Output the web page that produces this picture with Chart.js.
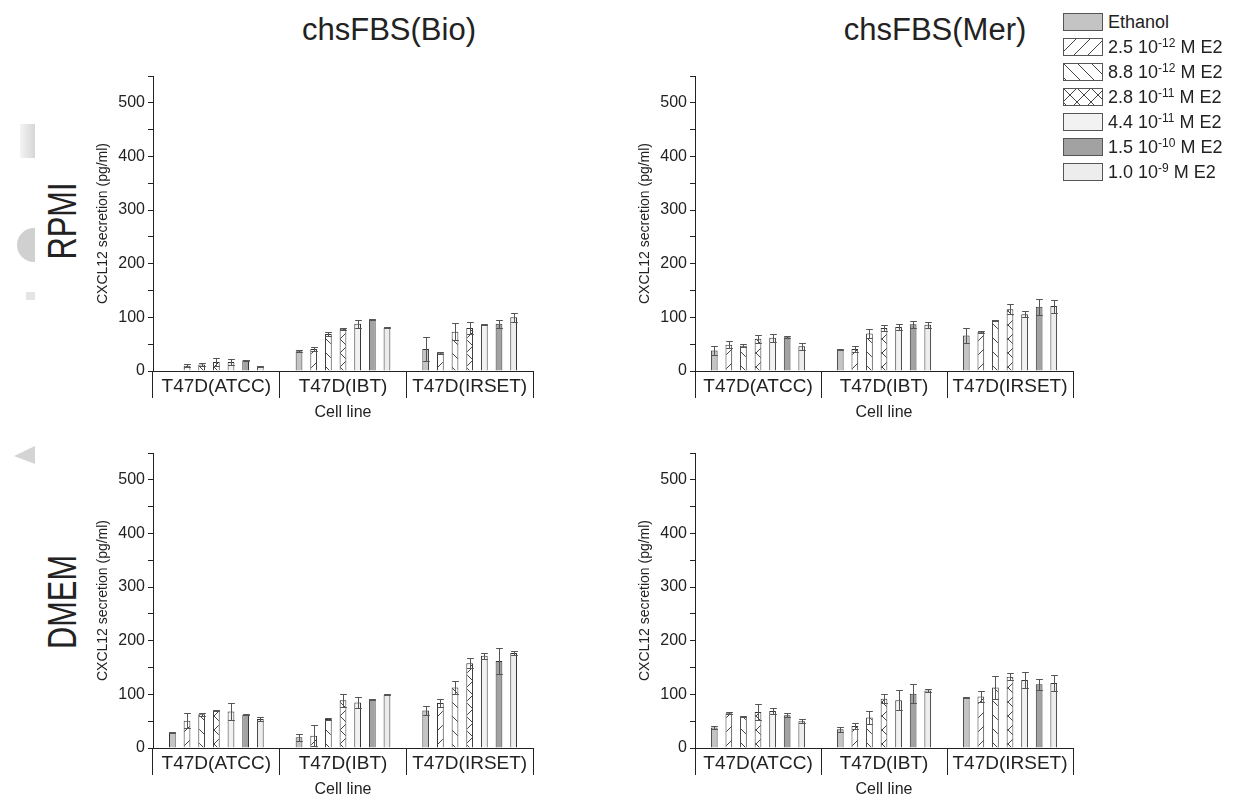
<!DOCTYPE html>
<html>
<head>
<meta charset="utf-8">
<script src="https://cdn.jsdelivr.net/npm/chart.js@4.4.1/dist/chart.umd.min.js"></script>
<style>
  body { margin: 0; background: #fff; font-family: "Liberation Sans", Arial, sans-serif; color: #222; }
  #fig { position: relative; width: 1233px; height: 805px; overflow: hidden; background: #fff; }
  canvas.panel { position: absolute; }
  .ptitle { position: absolute; top: 12px; font-size: 31px; transform: translateX(-50%); white-space: nowrap; }
  .rowlab { position: absolute; font-size: 40px; white-space: nowrap; transform: translate(-50%, -50%) rotate(-90deg) scaleX(0.77); }
  #legend { position: absolute; left: 1063px; top: 13px; }
  .lrow { position: absolute; left: 0; height: 18px; display: flex; align-items: center; white-space: nowrap; font-size: 18px; }
  .lrow canvas { width: 40px; height: 18px; margin-right: 5px; }
  .lrow sup { font-size: 12px; vertical-align: 0; position: relative; top: -6px; }
  .art { position: absolute; background: #d9d9d9; }
</style>
</head>
<body>
<div id="fig">
  <div class="art" style="left:20px;top:124px;width:15px;height:34px;background:linear-gradient(to right,#f4f4f4,#d6d6d6);"></div>
  <div class="art" style="left:17px;top:228px;width:18px;height:34px;border-radius:18px 0 0 18px;background:#d0d0d0;"></div>
  <div class="art" style="left:26px;top:292px;width:9px;height:8px;background:#e4e4e4;"></div>
  <div class="art" style="left:14px;top:446px;width:21px;height:18px;background:#d4d4d4;clip-path:polygon(100% 0,100% 100%,0 55%);"></div>

  <div class="ptitle" style="left:389px;">chsFBS(Bio)</div>
  <div class="ptitle" style="left:935px;">chsFBS(Mer)</div>
  <div class="rowlab" style="left:62px;top:221px;">RPMI</div>
  <div class="rowlab" style="left:62px;top:602px;">DMEM</div>

  <canvas class="panel" id="p1" width="444" height="356" style="left:95px;top:66px;"></canvas>
  <canvas class="panel" id="p2" width="442" height="356" style="left:637px;top:66px;"></canvas>
  <canvas class="panel" id="p3" width="444" height="356" style="left:95px;top:443px;"></canvas>
  <canvas class="panel" id="p4" width="442" height="356" style="left:637px;top:443px;"></canvas>

  <div id="legend"></div>
</div>
<script>
// ── Categorías y concentraciones ─────────────────────────────────────────────
const cellLines = ['T47D(ATCC)', 'T47D(IBT)', 'T47D(IRSET)'];
const concBase  = ['Ethanol', '2.5 10', '8.8 10', '2.8 10', '4.4 10', '1.5 10', '1.0 10'];
const concExp   = ['', '-12', '-12', '-11', '-11', '-10', '-9'];
const yTicks    = [0, 100, 200, 300, 400, 500];

// ── Valores: [línea celular][concentración] ──────────────────────────────────
const bioRpmi    = [[null, 10, 12, 17, 17, 20, 9], [37, 41, 69, 79, 88, 96, 81], [41, 34, 73, 80, 86, 88, 100]];
const bioRpmiErr = [[0, 3, 3, 8, 5, 1, 1],         [2, 3, 3, 2, 7, 1, 1],        [22, 2, 16, 11, 1, 8, 9]];

const merRpmi    = [[38, 49, 47, 60, 62, 63, 46], [40, 41, 70, 80, 82, 87, 86], [66, 73, 95, 115, 106, 120, 121]];
const merRpmiErr = [[8, 7, 3, 7, 7, 2, 7],        [1, 6, 9, 5, 6, 7, 6],        [14, 2, 1, 9, 5, 15, 12]];

const bioDmem    = [[29, 51, 63, 70, 68, 62, 54], [20, 23, 54, 89, 85, 91, 99], [70, 84, 113, 158, 172, 162, 177]];
const bioDmemErr = [[1, 14, 3, 1, 15, 1, 4],      [7, 19, 2, 12, 10, 1, 1],     [9, 7, 12, 9, 6, 24, 3]];

const merDmem    = [[38, 65, 58, 67, 69, 61, 50], [35, 41, 57, 92, 89, 101, 107], [94, 96, 113, 133, 127, 119, 121]];
const merDmemErr = [[3, 2, 1, 15, 6, 4, 4],       [5, 6, 12, 9, 19, 18, 3],       [1, 11, 22, 7, 15, 10, 15]];

// ── Estilos de relleno por concentración ─────────────────────────────────────
const FILLS = ['#c4c4c4', '/', '\\', 'x', '#f2f2f2', '#a2a2a2', '#ededed'];
const INK = '#222';

function makeFill(kind) {
    if (kind[0] === '#') return kind;
    const s = 14;
    const c = document.createElement('canvas');
    c.width = s; c.height = s;
    const g = c.getContext('2d');
    g.fillStyle = '#fff';
    g.fillRect(0, 0, s, s);
    g.strokeStyle = '#444';
    g.lineWidth = 1;
    g.beginPath();
    if (kind === '/' || kind === 'x') {
        g.moveTo(-1, s + 1); g.lineTo(s + 1, -1);
    }
    if (kind === '\\' || kind === 'x') {
        g.moveTo(-1, -1); g.lineTo(s + 1, s + 1);
    }
    g.stroke();
    return g.createPattern(c, 'repeat');
}

// ── Barras de error (arriba y abajo, con remates) ────────────────────────────
const errorBars = {
    id: 'errorBars',
    afterDatasetsDraw(chart) {
        const ctx = chart.ctx;
        const ys = chart.scales.y;
        ctx.save();
        ctx.strokeStyle = '#555';
        ctx.lineWidth = 1;
        chart.data.datasets.forEach((ds, i) => {
            chart.getDatasetMeta(i).data.forEach((bar, j) => {
                const v = ds.data[j], e = ds.errors[j];
                if (v == null || !e) return;
                const x = Math.round(bar.x) + 0.5;
                const hw = bar.width / 2;
                const yt = Math.round(ys.getPixelForValue(v + e)) + 0.5;
                const yb = Math.round(ys.getPixelForValue(v - e)) + 0.5;
                ctx.beginPath();
                ctx.moveTo(x, yt); ctx.lineTo(x, yb);
                ctx.moveTo(x - hw, yt); ctx.lineTo(x + hw, yt);
                ctx.moveTo(x - hw, yb); ctx.lineTo(x + hw, yb);
                ctx.stroke();
            });
        });
        ctx.restore();
    }
};

function buildPanel(id, means, errs) {
    const datasets = concBase.map((name, k) => ({
        label: name + (concExp[k] ? ' ' + concExp[k] : ''),
        data: cellLines.map((_, c) => means[c][k]),
        errors: cellLines.map((_, c) => errs[c][k]),
        backgroundColor: makeFill(FILLS[k]),
        borderColor: '#333',
        borderWidth: 1,
        borderSkipped: 'bottom',
        categoryPercentage: 0.81,
        barPercentage: 0.46,
    }));

    return new Chart(document.getElementById(id), {
        type: 'bar',
        data: { labels: cellLines, datasets },
        plugins: [errorBars],
        options: {
            responsive: false,
            animation: false,
            layout: { padding: { left: 0, top: 10, right: 6, bottom: 0 } },
            plugins: { legend: { display: false }, tooltip: { enabled: false } },
            scales: {
                x: {
                    grid: { offset: true, drawOnChartArea: false, tickLength: 27, color: INK, tickColor: INK },
                    border: { display: true, color: INK, width: 1 },
                    ticks: { color: INK, padding: -23, font: { family: 'Liberation Sans', size: 19 }, maxRotation: 0 },
                    title: { display: true, text: 'Cell line', color: INK, padding: 0, font: { family: 'Liberation Sans', size: 16 } },
                    afterFit: (s) => { s.height = 51; s.paddingLeft = 0; s.paddingRight = 0; },
                },
                y: {
                    min: 0,
                    max: 550,
                    grid: { drawOnChartArea: false, tickLength: 5, color: INK, tickColor: INK },
                    border: { display: true, color: INK, width: 1 },
                    ticks: {
                        stepSize: 50,
                        padding: 3,
                        color: INK,
                        font: { family: 'Liberation Sans', size: 16 },
                        callback: (v) => yTicks.includes(v) ? v : '',
                    },
                    title: { display: true, text: 'CXCL12 secretion (pg/ml)', color: INK, padding: 0, font: { family: 'Liberation Sans', size: 14 } },
                    afterFit: (s) => { s.width = 58; s.paddingTop = 0; s.paddingBottom = 0; },
                }
            }
        }
    });
}

buildPanel('p1', bioRpmi, bioRpmiErr);
buildPanel('p2', merRpmi, merRpmiErr);
buildPanel('p3', bioDmem, bioDmemErr);
buildPanel('p4', merDmem, merDmemErr);

// ── Leyenda ──────────────────────────────────────────────────────────────────
const legend = document.getElementById('legend');
concBase.forEach((name, k) => {
    const row = document.createElement('div');
    row.className = 'lrow';
    row.style.top = (k * 25) + 'px';
    const sw = document.createElement('canvas');
    sw.width = 40; sw.height = 18;
    const g = sw.getContext('2d');
    g.fillStyle = makeFill(FILLS[k]);
    g.fillRect(0, 0, 40, 18);
    g.strokeStyle = '#555';
    g.strokeRect(0.5, 0.5, 39, 17);
    row.appendChild(sw);
    const txt = document.createElement('span');
    if (concExp[k]) {
        txt.innerHTML = name + '<sup>' + concExp[k] + '</sup> M E2';
    } else {
        txt.textContent = name;
    }
    row.appendChild(txt);
    legend.appendChild(row);
});
</script>
</body>
</html>
